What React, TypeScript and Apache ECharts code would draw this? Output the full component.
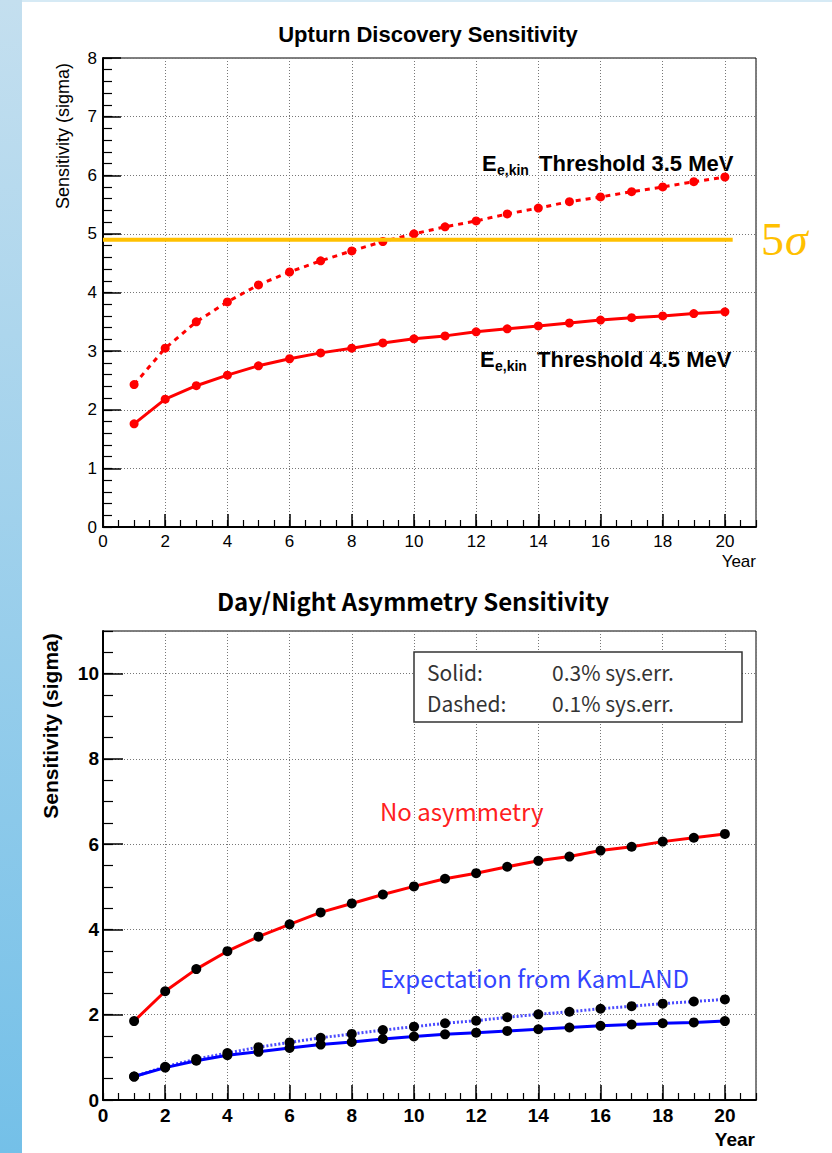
import React, { useEffect, useRef } from "react";
import * as echarts from "echarts";

// ---------- data ----------
const YEARS = [1, 2, 3, 4, 5, 6, 7, 8, 9, 10, 11, 12, 13, 14, 15, 16, 17, 18, 19, 20];

// Upturn discovery sensitivity (sigma)
const UPTURN_35_MEV = [2.43, 3.05, 3.5, 3.84, 4.13, 4.35, 4.54, 4.71, 4.87, 5.0, 5.12, 5.22, 5.34, 5.44, 5.55, 5.63, 5.72, 5.8, 5.89, 5.97];
const UPTURN_45_MEV = [1.76, 2.18, 2.41, 2.59, 2.75, 2.87, 2.97, 3.05, 3.14, 3.21, 3.26, 3.33, 3.38, 3.43, 3.48, 3.53, 3.57, 3.6, 3.64, 3.67];
const FIVE_SIGMA_LEVEL = 4.9;
const FIVE_SIGMA_SPAN = [0, 20.25];

// Day/Night asymmetry sensitivity (sigma)
const NO_ASYMMETRY = [1.85, 2.55, 3.07, 3.49, 3.83, 4.12, 4.4, 4.61, 4.82, 5.01, 5.19, 5.32, 5.47, 5.61, 5.71, 5.85, 5.94, 6.06, 6.15, 6.24];
const KAMLAND_SYS03 = [0.55, 0.76, 0.92, 1.05, 1.13, 1.22, 1.3, 1.36, 1.43, 1.49, 1.54, 1.58, 1.62, 1.66, 1.7, 1.74, 1.77, 1.8, 1.82, 1.85];
const KAMLAND_SYS01 = [0.55, 0.78, 0.96, 1.1, 1.24, 1.35, 1.46, 1.55, 1.64, 1.72, 1.8, 1.86, 1.94, 2.01, 2.07, 2.14, 2.2, 2.26, 2.31, 2.36];

const LEGEND_KEYS = ["Solid:", "Dashed:"];
const LEGEND_VALUES = ["0.3% sys.err.", "0.1% sys.err."];

const pairs = (vals: number[]) => YEARS.map((y, i) => [y, vals[i]]);

const ROOT_FONT = "'Liberation Sans', Arial, Helvetica, sans-serif";
const JP_FONT = "'Noto Sans CJK JP', 'Noto Sans', sans-serif";
const SERIF_FONT = "'Liberation Serif', 'DejaVu Serif', serif";

function mainX(gridIndex: number, fontSize: number, fontWeight: string, tickLen: number) {
  return {
    type: "value",
    gridIndex,
    min: 0,
    max: 21,
    interval: 2,
    position: "bottom",
    axisLine: { show: true, onZero: false, lineStyle: { color: "#000", width: 2 } },
    axisTick: { show: true, inside: true, length: tickLen, lineStyle: { color: "#000", width: 1.5 } },
    axisLabel: { showMaxLabel: false, margin: 6, color: "#000", fontSize, fontWeight, fontFamily: ROOT_FONT },
    splitLine: { show: true, lineStyle: { type: [1, 2], color: "#777", width: 1 } },
  };
}
function minorX(gridIndex: number) {
  return {
    type: "value",
    gridIndex,
    min: 0,
    max: 21,
    interval: 0.5,
    position: "bottom",
    axisLine: { show: false, onZero: false },
    axisTick: { show: true, inside: true, length: 7, lineStyle: { color: "#000", width: 1.2 } },
    axisLabel: { show: false },
    splitLine: { show: false },
  };
}
function mainY(gridIndex: number, max: number, interval: number, fontSize: number, fontWeight: string, tickLen: number, margin: number) {
  return {
    type: "value",
    gridIndex,
    min: 0,
    max,
    interval,
    position: "left",
    offset: 0,
    axisLine: { show: true, onZero: false, lineStyle: { color: "#000", width: 2 } },
    axisTick: { show: true, inside: true, length: tickLen, lineStyle: { color: "#000", width: 1.5 } },
    axisLabel: { showMaxLabel: max % interval === 0, margin, color: "#000", fontSize, fontWeight, fontFamily: ROOT_FONT },
    splitLine: { show: true, lineStyle: { type: [1, 2], color: "#777", width: 1 } },
  };
}
function minorY(gridIndex: number, max: number, interval: number, tickLen: number) {
  return {
    type: "value",
    gridIndex,
    min: 0,
    max,
    interval,
    position: "left",
    offset: 0,
    axisLine: { show: false, onZero: false },
    axisTick: { show: true, inside: true, length: tickLen, lineStyle: { color: "#000", width: 1.2 } },
    axisLabel: { show: false },
    splitLine: { show: false },
  };
}

export default function App() {
  const ref = useRef<HTMLDivElement>(null);
  useEffect(() => {
    const chart = echarts.init(ref.current!, null, { renderer: "svg" });
    const option: any = {
      animation: false,
      backgroundColor: "#fff",
      grid: [
        { left: 103, top: 58, width: 653, height: 469, show: true, borderColor: "#000", borderWidth: 1, backgroundColor: "transparent" },
        { left: 103, top: 631, width: 653, height: 469, show: true, borderColor: "#000", borderWidth: 1, backgroundColor: "transparent" },
      ],
      xAxis: [mainX(0, 17, "normal", 13), minorX(0), mainX(1, 19, "bold", 15), minorX(1)],
      yAxis: [
        mainY(0, 8, 1, 17, "normal", 18, 6),
        minorY(0, 8, 0.2, 9),
        mainY(1, 11, 2, 19, "bold", 20, 4),
        minorY(1, 11, 0.5, 10),
      ],
      series: [
        {
          type: "line",
          name: "Threshold 3.5 MeV",
          xAxisIndex: 0,
          yAxisIndex: 0,
          data: pairs(UPTURN_35_MEV),
          symbol: "circle",
          symbolSize: 9,
          lineStyle: { color: "#ff0000", width: 3, type: [5, 5] },
          itemStyle: { color: "#ff0000" },
        },
        {
          type: "line",
          name: "Threshold 4.5 MeV",
          xAxisIndex: 0,
          yAxisIndex: 0,
          data: pairs(UPTURN_45_MEV),
          symbol: "circle",
          symbolSize: 9,
          lineStyle: { color: "#ff0000", width: 3 },
          itemStyle: { color: "#ff0000" },
        },
        {
          type: "line",
          name: "5 sigma",
          xAxisIndex: 0,
          yAxisIndex: 0,
          data: FIVE_SIGMA_SPAN.map((x) => [x, FIVE_SIGMA_LEVEL]),
          symbol: "none",
          silent: true,
          z: 5,
          lineStyle: { color: "#ffc000", width: 4 },
        },
        {
          type: "line",
          name: "KamLAND 0.1%",
          xAxisIndex: 2,
          yAxisIndex: 2,
          data: pairs(KAMLAND_SYS01),
          symbol: "circle",
          symbolSize: 10,
          lineStyle: { color: "#4a4aff", width: 3, type: [2, 2] },
          itemStyle: { color: "#000" },
        },
        {
          type: "line",
          name: "KamLAND 0.3%",
          xAxisIndex: 2,
          yAxisIndex: 2,
          data: pairs(KAMLAND_SYS03),
          symbol: "circle",
          symbolSize: 10,
          lineStyle: { color: "#0000ff", width: 3 },
          itemStyle: { color: "#000" },
        },
        {
          type: "line",
          name: "No asymmetry",
          xAxisIndex: 2,
          yAxisIndex: 2,
          data: pairs(NO_ASYMMETRY),
          symbol: "circle",
          symbolSize: 10,
          lineStyle: { color: "#ff0000", width: 3 },
          itemStyle: { color: "#000" },
        },
      ],
      graphic: [
        // left gradient strip and top band
        {
          type: "rect",
          silent: true,
          shape: { x: 0, y: 0, width: 22, height: 1153 },
          style: {
            fill: new echarts.graphic.LinearGradient(0, 0, 0, 1, [
              { offset: 0, color: "#c4dfef" },
              { offset: 1, color: "#74c0e8" },
            ]),
          },
        },
        { type: "rect", silent: true, shape: { x: 22, y: 0, width: 810, height: 2 }, style: { fill: "#d6eaf5" } },
        // top chart texts
        {
          type: "text",
          x: 428,
          y: 34,
          style: { text: "Upturn Discovery Sensitivity", fontSize: 22, fontWeight: "bold", fontFamily: ROOT_FONT, fill: "#000", align: "center", verticalAlign: "middle" },
        },
        {
          type: "text",
          x: 63,
          y: 136,
          rotation: Math.PI / 2,
          style: { text: "Sensitivity (sigma)", fontSize: 18, fontFamily: ROOT_FONT, fill: "#000", align: "center", verticalAlign: "middle" },
        },
        {
          type: "text",
          x: 756,
          y: 561,
          style: { text: "Year", fontSize: 17, fontFamily: ROOT_FONT, fill: "#000", align: "right", verticalAlign: "middle" },
        },
        { type: "text", x: 482, y: 163, style: { text: "E", fontSize: 22, fontWeight: "bold", fontFamily: ROOT_FONT, fill: "#000", align: "left", verticalAlign: "middle" } },
        { type: "text", x: 497, y: 170, style: { text: "e,kin", fontSize: 14, fontWeight: "bold", fontFamily: ROOT_FONT, fill: "#000", align: "left", verticalAlign: "middle" } },
        { type: "text", x: 539, y: 163, style: { text: "Threshold 3.5 MeV", fontSize: 22, fontWeight: "bold", fontFamily: ROOT_FONT, fill: "#000", align: "left", verticalAlign: "middle" } },
        { type: "text", x: 480, y: 359, style: { text: "E", fontSize: 22, fontWeight: "bold", fontFamily: ROOT_FONT, fill: "#000", align: "left", verticalAlign: "middle" } },
        { type: "text", x: 495, y: 366, style: { text: "e,kin", fontSize: 14, fontWeight: "bold", fontFamily: ROOT_FONT, fill: "#000", align: "left", verticalAlign: "middle" } },
        { type: "text", x: 537, y: 359, style: { text: "Threshold 4.5 MeV", fontSize: 22, fontWeight: "bold", fontFamily: ROOT_FONT, fill: "#000", align: "left", verticalAlign: "middle" } },
        { type: "text", x: 761, y: 239, style: { text: "5", fontSize: 46, fontFamily: SERIF_FONT, fill: "#ffc000", align: "left", verticalAlign: "middle" } },
        { type: "text", x: 785, y: 239, style: { text: "σ", fontSize: 46, fontStyle: "italic", fontFamily: SERIF_FONT, fill: "#ffc000", align: "left", verticalAlign: "middle" } },
        // bottom chart texts
        {
          type: "text",
          x: 413,
          y: 600,
          style: { text: "Day/Night Asymmetry Sensitivity", fontSize: 24, fontWeight: "bold", fontFamily: JP_FONT, fill: "#000", align: "center", verticalAlign: "middle" },
        },
        {
          type: "text",
          x: 50,
          y: 726,
          rotation: Math.PI / 2,
          style: { text: "Sensitivity (sigma)", fontSize: 21, fontWeight: "bold", fontFamily: ROOT_FONT, fill: "#000", align: "center", verticalAlign: "middle" },
        },
        {
          type: "text",
          x: 755,
          y: 1139,
          style: { text: "Year", fontSize: 19, fontWeight: "bold", fontFamily: ROOT_FONT, fill: "#000", align: "right", verticalAlign: "middle" },
        },
        {
          type: "rect",
          shape: { x: 414, y: 652, width: 328, height: 70 },
          style: { fill: "#fff", stroke: "#333", lineWidth: 1.5 },
          z: 10,
        },
        { type: "text", x: 427, y: 687, z: 11, style: { text: LEGEND_KEYS.join("\n"), fontSize: 21, lineHeight: 31, fontFamily: JP_FONT, fill: "#333", align: "left", verticalAlign: "middle" } },
        { type: "text", x: 552, y: 687, z: 11, style: { text: LEGEND_VALUES.join("\n"), fontSize: 21, lineHeight: 31, fontFamily: JP_FONT, fill: "#333", align: "left", verticalAlign: "middle" } },
        { type: "text", x: 380, y: 810, style: { text: "No asymmetry", fontSize: 24, fontFamily: JP_FONT, fill: "#ff2020", align: "left", verticalAlign: "middle" } },
        { type: "text", x: 380, y: 977, style: { text: "Expectation from KamLAND", fontSize: 24, fontFamily: JP_FONT, fill: "#3344ff", align: "left", verticalAlign: "middle" } },
      ],
    };
    chart.setOption(option);
    return () => chart.dispose();
  }, []);
  return <div ref={ref} style={{ position: "fixed", left: 0, top: 0, width: 832, height: 1153, background: "#fff" }} />;
}
